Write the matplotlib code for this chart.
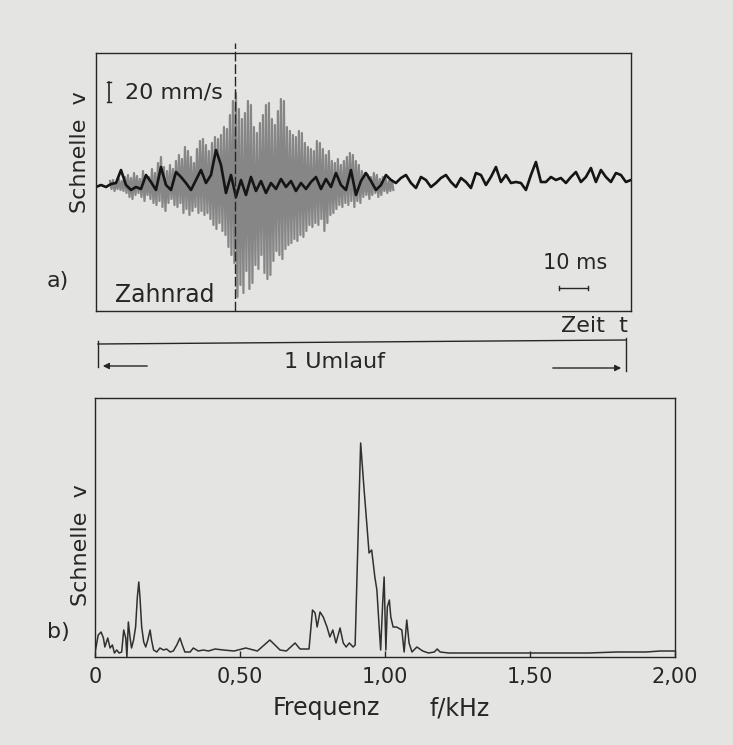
import numpy as np
import matplotlib.pyplot as plt
from matplotlib.lines import Line2D

plt.rcParams['font.family'] = 'DejaVu Sans'

# --- a) time signal ---
# black trace: velocity in mm/s, one sample every black_dt ms
black_dt = 1.724
black_v = [-2, 0, -2, 1, 2, 15, 0, -5, -2, -4, 10, 3, -5, 18, 0, -5, 13, 8, 2, -5, 5, 15, 2,
           10, 35, 20, -8, 10, -12, 5, -10, 8, -6, 4, -8, 2, -4, 6, -2, 4, -6, 2, -4, 3,
           8, -4, 6, -2, 12, 0, -5, 15, -10, 4, 12, 4, -5, 0, 10, 5, 2, 7, 10, 2, -3, 8,
           5, -2, 2, 7, 10, 3, -2, 7, 3, -3, 12, 10, 0, 8, 18, 3, 10, 2, 3, 2,
           -5, 10, 23, 3, 3, 8, 5, 7, 2, 8, 13, 3, 8, 17, 3, 15, 8, 3, 12, 10, 3, 5]

# grey trace (gear burst): upper / lower swing of each oscillation in mm/s
gray_t0 = 4.83
gray_dt = 1.034
gray_up = [4, 5, 3, 6, 4, 8, 10, 7, 12, 9,
           6, 14, 10, 8, 16, 12, 22, 28, 18, 14,
           20, 16, 24, 30, 26, 38, 34, 28, 22, 36,
           44, 46, 40, 34, 42, 48, 46, 50, 58, 56,
           70, 84, 92, 76, 66, 72, 84, 80, 58, 52,
           62, 70, 80, 82, 66, 60, 74, 86, 84, 58,
           54, 50, 48, 54, 52, 42, 38, 36, 34, 44,
           42, 36, 30, 34, 24, 22, 26, 20, 24, 28,
           32, 30, 24, 20, 14, 12, 10, 8, 12, 10,
           6, 8, 6, 4, 5]
gray_lo = [-4, -6, -4, -5, -6, -8, -12, -14, -10, -8,
           -12, -16, -10, -14, -18, -20, -16, -22, -26, -18,
           -14, -20, -22, -18, -28, -24, -30, -26, -22, -28,
           -26, -30, -28, -34, -40, -44, -38, -46, -50, -62,
           -70, -78, -112, -100, -108, -86, -104, -98, -80, -84,
           -70, -88, -94, -90, -76, -66, -70, -74, -64, -60,
           -58, -54, -56, -50, -52, -46, -40, -42, -38, -40,
           -34, -46, -38, -30, -28, -24, -20, -22, -18, -20,
           -16, -22, -16, -18, -12, -10, -14, -10, -8, -12,
           -10, -6, -8, -6, -5]
t_gear = 47.9  # ms, dashed marker "Zahnrad"

# --- b) spectrum ---
spec_f = [0, .011, .021, .029, .034, .044, .052, .06, .067, .075,
          .083, .092, .099, .106, .11, .115, .121, .126, .133, .14,
          .146, .151, .155, .161, .168, .175, .182, .19, .195, .202,
          .213, .224, .236, .247, .259, .27, .282, .293, .301, .31,
          .328, .339, .356, .374, .391, .414, .443, .48, .52, .56,
          .603, .638, .66, .69, .707, .738, .75, .759, .766, .776,
          .787, .8, .81, .82, .831, .845, .856, .866, .877, .89,
          .897, .916, .928, .937, .945, .954, .965, .972, .979, .985,
          .992, .997, 1.003, 1.008, 1.015, 1.02, 1.028, 1.04, 1.058, 1.066,
          1.075, 1.083, 1.093, 1.11, 1.13, 1.15, 1.17, 1.18, 1.19, 1.22,
          1.3, 1.4, 1.5, 1.6, 1.7, 1.8, 1.9, 1.95, 2.0]
spec_a = [4, 22, 25, 19, 10, 19, 9, 12, 4, 7,
          4, 5, 27, 19, 0, 35, 19, 9, 17, 30,
          60, 75, 60, 30, 15, 10, 17, 27, 17, 7,
          5, 9, 7, 8, 5, 6, 12, 19, 12, 5,
          5, 9, 6, 7, 6, 8, 7, 6, 9, 6,
          17, 7, 6, 14, 8, 8, 47, 44, 30, 45,
          40, 30, 20, 27, 14, 29, 14, 10, 14, 10,
          12, 214, 167, 134, 104, 107, 80, 67, 34, 7,
          54, 80, 7, 50, 57, 40, 30, 30, 27, 5,
          37, 14, 5, 10, 6, 4, 5, 8, 5, 4,
          4, 4, 4, 4, 4, 5, 5, 6, 6]
f_ticks = [0, 0.5, 1.0, 1.5, 2.0]
f_labels = ['0', '0,50', '1,00', '1,50', '2,00']

paper = '#e4e4e2'
ink = '#262626'
W, H = 733, 745


def fx(x):
    return x / W


def fy(y):
    return 1 - y / H


fig = plt.figure(figsize=(W / 100, H / 100), dpi=100, facecolor=paper)

# ---------------- a) ----------------
ax1 = fig.add_axes([fx(96), fy(311), fx(631) - fx(96), fy(53) - fy(311)])
ax1.set_facecolor('none')
ax1.set_xlim(0, 184.5)
ax1.set_ylim(-126, 132)
ax1.set_xticks([])
ax1.set_yticks([])
for s in ax1.spines.values():
    s.set_color(ink)
    s.set_linewidth(1.0)

n = len(gray_up)
t_up = gray_t0 + gray_dt * np.arange(n)
tg = np.empty(2 * n)
vg = np.empty(2 * n)
tg[0::2] = t_up
tg[1::2] = t_up + gray_dt / 2
vg[0::2] = gray_up
vg[1::2] = gray_lo
ax1.plot(tg, vg, color='#868686', lw=1.6)

tb = black_dt * np.arange(len(black_v))
ax1.plot(tb, black_v, color='#151515', lw=1.9)

ax1.plot([t_gear, t_gear], [-126, 142], color=ink, lw=1.0,
         ls=(0, (7, 2)), clip_on=False)

# 20 mm/s scale bar
ax1.plot([4.5, 4.5], [83, 103], color=ink, lw=1.2)
ax1.plot([3.8, 5.2], [83, 83], color=ink, lw=1.0)
ax1.plot([3.8, 5.2], [103, 103], color=ink, lw=1.0)
ax1.text(10.0, 93, '20 mm/s', fontsize=16, ha='left', va='center', color=ink)
ax1.text(6.6, -110, 'Zahnrad', fontsize=17, ha='left', va='center', color=ink)

# 10 ms scale bar
ax1.plot([159.7, 169.7], [-103, -103], color=ink, lw=1.0)
ax1.plot([159.7, 159.7], [-101, -105], color=ink, lw=1.0)
ax1.plot([169.7, 169.7], [-101, -105], color=ink, lw=1.0)
ax1.text(165.2, -78, '10 ms', fontsize=15, ha='center', va='center', color=ink)

fig.text(fx(80), fy(152), 'Schnelle  v', rotation=90, fontsize=16,
         ha='center', va='center', color=ink)
fig.text(fx(58), fy(281), 'a)', fontsize=16, ha='center', va='center', color=ink)
fig.text(fx(594), fy(326), 'Zeit  t', fontsize=16, ha='center', va='center', color=ink)

# one revolution marker
fig.add_artist(Line2D([fx(98), fx(626)], [fy(344), fy(340)], color=ink, lw=1.0))
fig.add_artist(Line2D([fx(98), fx(98)], [fy(341), fy(367)], color=ink, lw=1.0))
fig.add_artist(Line2D([fx(626), fx(626)], [fy(338), fy(371)], color=ink, lw=1.0))
ax1.annotate('', xy=(fx(100), fy(366)), xytext=(fx(150), fy(366)),
             xycoords='figure fraction', textcoords='figure fraction',
             arrowprops=dict(arrowstyle='-|>', color=ink, lw=1.0, mutation_scale=9),
             annotation_clip=False)
ax1.annotate('', xy=(fx(624), fy(368)), xytext=(fx(550), fy(368)),
             xycoords='figure fraction', textcoords='figure fraction',
             arrowprops=dict(arrowstyle='-|>', color=ink, lw=1.0, mutation_scale=9),
             annotation_clip=False)
fig.text(fx(334), fy(362), '1 Umlauf', fontsize=16, ha='center', va='center', color=ink)

# ---------------- b) ----------------
ax2 = fig.add_axes([fx(95), fy(657), fx(675) - fx(95), fy(398) - fy(657)])
ax2.set_facecolor('none')
ax2.set_xlim(0, 2.0)
ax2.set_ylim(0, 259)
ax2.plot(spec_f, spec_a, color='#303030', lw=1.1)
ax2.set_xticks(f_ticks, f_labels)
ax2.set_yticks([])
ax2.tick_params(axis='x', direction='in', length=4, width=1.0, color=ink,
                labelsize=15, labelcolor=ink, pad=7)
for s in ax2.spines.values():
    s.set_color(ink)
    s.set_linewidth(1.0)

fig.text(fx(81), fy(545), 'Schnelle  v', rotation=90, fontsize=16,
         ha='center', va='center', color=ink)
fig.text(fx(58), fy(632), 'b)', fontsize=16, ha='center', va='center', color=ink)
fig.text(fx(273), fy(708), 'Frequenz', fontsize=17, ha='left', va='center', color=ink)
fig.text(fx(430), fy(708), 'f/kHz', fontsize=17, ha='left', va='center', color=ink)

fig.savefig('out.png', dpi=100, facecolor=paper)
